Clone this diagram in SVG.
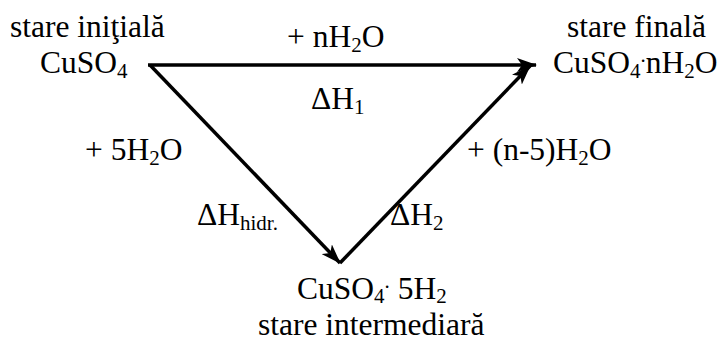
<svg xmlns="http://www.w3.org/2000/svg" width="722" height="341" viewBox="0 0 722 341">
<style>
text{font-family:"Liberation Serif","Times New Roman",serif;font-size:31.5px;fill:#000}
.sub{font-size:21px}
.c{stroke:#000;stroke-width:3.5;fill:none}
</style>
<defs>
<marker id="a" viewBox="0 0 20 14" refX="19" refY="7" markerWidth="20" markerHeight="14" markerUnits="userSpaceOnUse" orient="auto">
<path d="M0,0 L20,7 L0,14 L5,7 Z" fill="#000"/>
</marker>
</defs>
<rect width="722" height="341" fill="#fff"/>
<g id="connectors">
<line class="c" x1="148" y1="65" x2="536" y2="65" marker-end="url(#a)"/>
<line class="c" x1="150" y1="65" x2="340" y2="263" marker-end="url(#a)"/>
<line class="c" x1="340" y1="263" x2="530" y2="66" marker-end="url(#a)"/>
</g>
<g id="initial">
<text x="10" y="37">stare iniţială</text>
<text x="40" y="73">CuSO<tspan class="sub" dy="5">4</tspan></text>
</g>
<g id="final">
<text x="567" y="37">stare finală</text>
<text x="553" y="73">CuSO<tspan class="sub" dy="5">4</tspan><tspan class="sub" dy="-16">.</tspan><tspan dy="11">nH</tspan><tspan class="sub" dy="5">2</tspan><tspan dy="-5">O</tspan></text>
</g>
<g id="intermediate">
<text x="297" y="299">CuSO<tspan class="sub" dy="4">4</tspan><tspan class="sub" dy="-15">.</tspan><tspan dy="11"> 5H</tspan><tspan class="sub" dy="4">2</tspan></text>
<text x="258" y="335">stare intermediară</text>
</g>
<g id="labels">
<text x="287" y="47">+ nH<tspan class="sub" dy="5">2</tspan><tspan dy="-5">O</tspan></text>
<text x="311" y="109">ΔH<tspan class="sub" dy="5">1</tspan></text>
<text x="85" y="160">+ 5H<tspan class="sub" dy="5">2</tspan><tspan dy="-5">O</tspan></text>
<text x="467" y="160">+ (n-5)H<tspan class="sub" dy="5">2</tspan><tspan dy="-5">O</tspan></text>
<text x="197" y="225">ΔH<tspan class="sub" dy="5">hidr.</tspan></text>
<text x="390" y="225">ΔH<tspan class="sub" dy="5">2</tspan></text>
</g>
</svg>
